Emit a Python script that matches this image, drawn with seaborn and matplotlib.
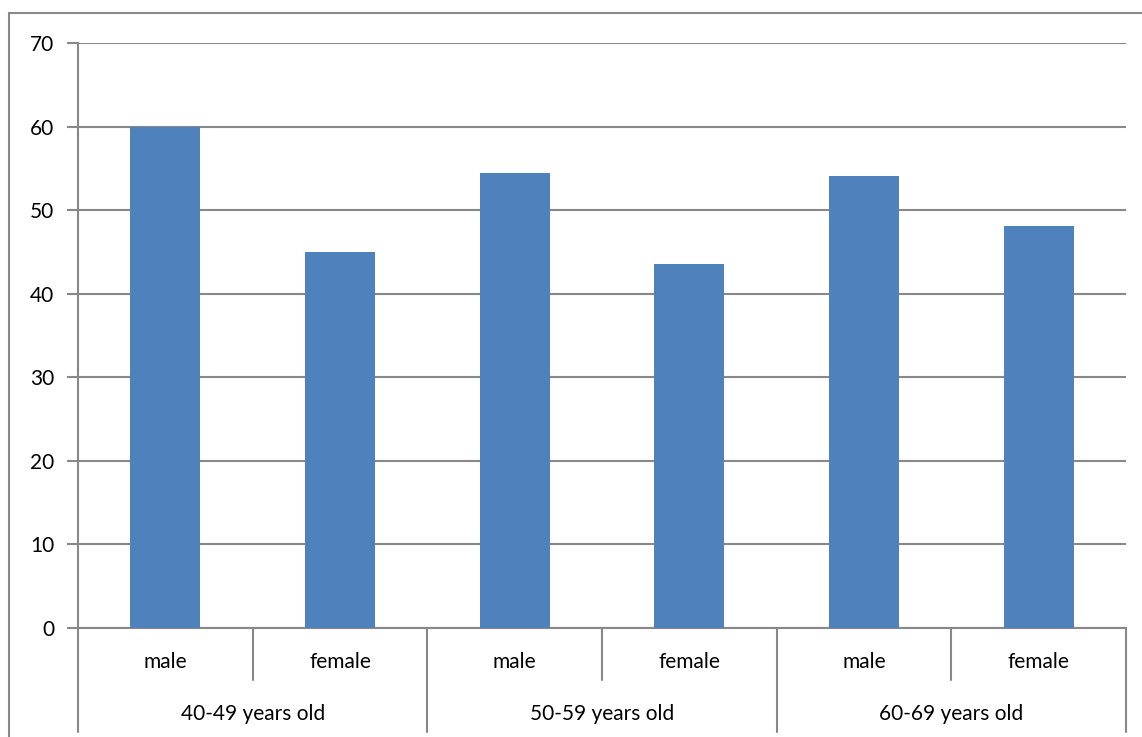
import matplotlib
matplotlib.use("Agg")
import matplotlib.pyplot as plt
import seaborn as sns
import pandas as pd
from matplotlib.lines import Line2D

groups = ["40-49 years old", "50-59 years old", "60-69 years old"]
sexes = ["male", "female"]
values = [60.0, 45.0, 54.4, 43.6, 54.1, 48.1]

cats = [f"{g}|{s}" for g in groups for s in sexes]
df = pd.DataFrame({"cat": cats, "value": values})

sns.set_theme(style="white")
plt.rcParams['font.family'] = ['Lato', 'DejaVu Sans']

W, H = 1142, 737
fig = plt.figure(figsize=(W / 100, H / 100), dpi=100)
L, R, T, B = 78, 1126, 43, 628
ax = fig.add_axes([L / W, 1 - B / H, (R - L) / W, (B - T) / H])

sns.barplot(data=df, x="cat", y="value", order=cats, color="#4F81BD",
            saturation=1, width=0.4, ax=ax, zorder=3, linewidth=0)
ax.set_xlim(-0.5, len(cats) - 0.5)
ax.set_ylim(0, 70)
ax.set_yticks(range(0, 71, 10))
ax.yaxis.grid(True, color="#888888", linewidth=1.5, zorder=0)
ax.set_axisbelow(True)
ax.set_xlabel("")
ax.set_ylabel("")
ax.set_xticks([])
for s in ["top", "right"]:
    ax.spines[s].set_visible(False)
for s in ["left", "bottom"]:
    ax.spines[s].set_color("#888888")
    ax.spines[s].set_linewidth(1.5)
FS = 15
ax.tick_params(axis="y", which="major", left=True, length=8, width=1.5,
               color="#888888", pad=9, labelsize=FS, labelcolor="black")

ph = B - T
trans = ax.get_xaxis_transform()
# sub-category labels and separators
for i, c in enumerate(cats):
    ax.text(i, -34 / ph, c.split("|")[1], transform=trans, ha="center",
            va="center", fontsize=FS, color="black")
for i in range(len(cats) + 1):
    xpos = i - 0.5
    major = (i % 2 == 0)
    yend = -104 / ph if major else -52 / ph
    ax.add_line(Line2D([xpos, xpos], [0, yend], transform=trans, color="#888888",
                       linewidth=1.5, clip_on=False))
for gi, g in enumerate(groups):
    ax.text(gi * 2 + 0.5, -86 / ph, g, transform=trans, ha="center",
            va="center", fontsize=FS, color="black")

# outer chart frame (left and top visible)
fig.add_artist(Line2D([9 / W, 9 / W], [0, 1 - 13 / H], transform=fig.transFigure,
                      color="#888888", linewidth=1.5))
fig.add_artist(Line2D([9 / W, 1], [1 - 13 / H, 1 - 13 / H], transform=fig.transFigure,
                      color="#888888", linewidth=1.5))

fig.savefig("out.png", dpi=100)
